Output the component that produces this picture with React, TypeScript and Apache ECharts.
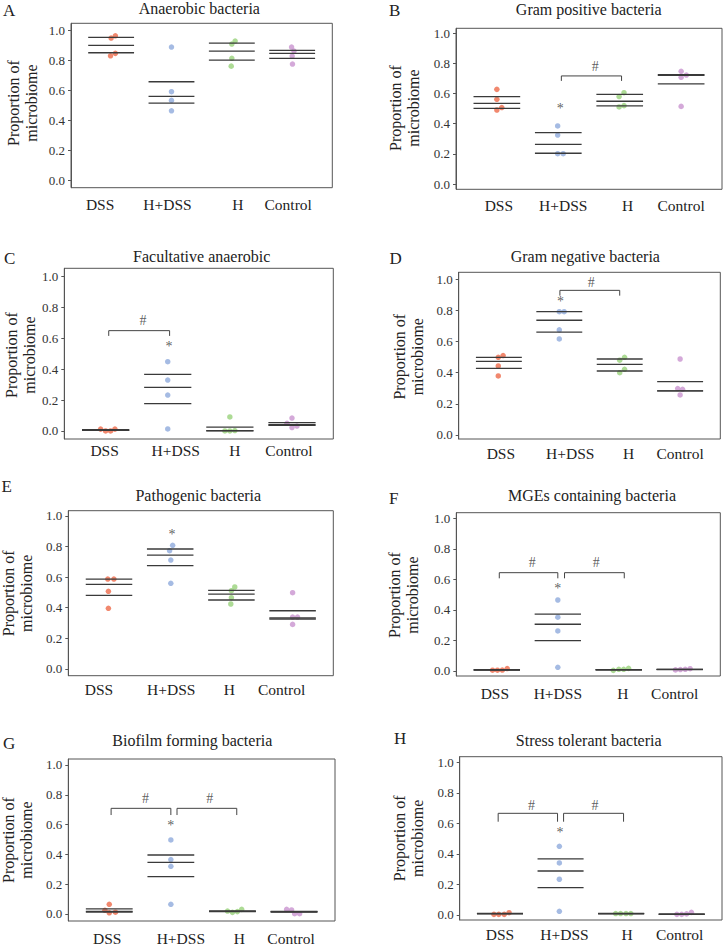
import React, { useEffect, useRef } from "react";
import * as echarts from "echarts";

const groups = ["DSS", "H+DSS", "H", "Control"];
const yTicks = [0, 0.2, 0.4, 0.6, 0.8, 1.0];
const titles = [
  "Anaerobic bacteria",
  "Gram positive bacteria",
  "Facultative anaerobic",
  "Gram negative bacteria",
  "Pathogenic bacteria",
  "MGEs containing bacteria",
  "Biofilm forming bacteria",
  "Stress tolerant bacteria",
];
const letters = ["A", "B", "C", "D", "E", "F", "G", "H"];
const groupColors = ["#EE6A4A", "#8FAADC", "#98D27A", "#C994D0"];

// A: Anaerobic
const anaerobicPoints = [[0.962, 0.947, 0.845, 0.829], [0.887, 0.59, 0.532, 0.463], [0.927, 0.907, 0.812, 0.76], [0.887, 0.86, 0.827, 0.774]];
const anaerobicJitter = [[0.07, 0, 0.07, -0.01], [0, 0, 0, 0], [0.055, 0, 0, -0.01], [-0.01, 0.03, 0, 0.005]];
const anaerobicLines = [[0.951, 0.898, 0.849], [0.656, 0.559, 0.514], [0.913, 0.86, 0.8], [0.865, 0.845, 0.812]];

// B: Gram positive
const gramPosPoints = [[0.628, 0.562, 0.507, 0.491], [0.385, 0.325, 0.201, 0.201], [0.606, 0.58, 0.52, 0.511], [0.748, 0.723, 0.708, 0.515]];
const gramPosJitter = [[0, 0, 0.08, 0], [-0.01, -0.01, -0.01, 0.08], [0.07, -0.01, 0.07, -0.01], [0, 0.085, 0, 0]];
const gramPosLines = [[0.58, 0.535, 0.502], [0.341, 0.263, 0.204], [0.595, 0.549, 0.518], [0.726, 0.721, 0.664]];
const gramPosStars = [[2.03, 0.524]];
const gramPosBrackets = [[2.05, 3.03, 0.717, 0.684]];
const gramPosHashes = [[2.6, 0.779]];

// C: Facultative anaerobic
const facultPoints = [[0.012, 0.0, 0.0, 0.012], [0.449, 0.33, 0.233, 0.013], [0.091, 0.0, 0.0, 0.003], [0.084, 0.05, 0.032, 0.022]];
const facultJitter = [[-0.08, 0, 0.08, 0.15], [0, 0, 0, 0], [0, -0.08, 0, 0.08], [0, -0.08, 0.08, 0]];
const facultLines = [[0.008, 0.006, 0.004], [0.367, 0.283, 0.177], [0.025, 0.002, 0.0], [0.054, 0.041, 0.036]];
const facultStars = [[2.02, 0.568]];
const facultBrackets = [[1.05, 2.03, 0.65, 0.616]];
const facultHashes = [[1.6, 0.719]];

// D: Gram negative
const gramNegPoints = [[0.51, 0.499, 0.443, 0.379], [0.792, 0.792, 0.675, 0.617], [0.499, 0.48, 0.422, 0.4], [0.488, 0.298, 0.293, 0.257]];
const gramNegJitter = [[0.07, -0.01, -0.01, -0.01], [0, 0.08, 0, 0], [0.08, 0, 0.08, 0], [0, -0.04, 0.04, 0]];
const gramNegLines = [[0.499, 0.473, 0.428], [0.792, 0.737, 0.66], [0.488, 0.454, 0.411], [0.343, 0.283, 0.283]];
const gramNegStars = [[2.02, 0.878]];
const gramNegBrackets = [[2.01, 3.0, 0.929, 0.895]];
const gramNegHashes = [[2.53, 0.979]];

// E: Pathogenic
const pathoPoints = [[0.587, 0.587, 0.507, 0.396], [0.807, 0.772, 0.711, 0.559], [0.535, 0.511, 0.465, 0.424], [0.498, 0.339, 0.339, 0.291]];
const pathoJitter = [[-0.02, 0.08, -0.01, -0.01], [0.04, -0.01, 0.01, 0.01], [0.055, 0, 0, -0.01], [0, 0, 0.08, 0]];
const pathoLines = [[0.587, 0.552, 0.48], [0.783, 0.743, 0.674], [0.513, 0.489, 0.45], [0.38, 0.333, 0.326]];
const pathoStars = [[2.03, 0.896]];

// F: MGEs containing
const mgePoints = [[0.005, 0.005, 0.006, 0.016], [0.465, 0.352, 0.262, 0.024], [0.004, 0.011, 0.011, 0.017], [0.007, 0.009, 0.011, 0.015]];
const mgeJitter = [[-0.07, 0.01, 0.09, 0.17], [0, 0, 0, 0], [-0.09, 0, 0.08, 0.16], [-0.07, 0.01, 0.09, 0.17]];
const mgeLines = [[0.008, 0.007, 0.006], [0.373, 0.306, 0.199], [0.009, 0.008, 0.007], [0.011, 0.01, 0.009]];
const mgeStars = [[2.0, 0.559]];
const mgeBrackets = [[1.04, 2.0, 0.644, 0.607], [2.11, 3.09, 0.644, 0.607]];
const mgeHashes = [[1.58, 0.71], [2.63, 0.71]];

// G: Biofilm forming
const biofilmPoints = [[0.065, 0.025, 0.008, 0.012], [0.497, 0.365, 0.32, 0.065], [0.02, 0.011, 0.016, 0.031], [0.031, 0.027, 0.002, 0.002]];
const biofilmJitter = [[0, -0.07, 0, 0.1], [0, 0, 0, 0], [-0.08, 0, 0.08, 0.15], [-0.12, -0.04, 0.01, 0.09]];
const biofilmLines = [[0.034, 0.017, 0.012], [0.396, 0.347, 0.251], [0.02, 0.018, 0.016], [0.018, 0.015, 0.013]];
const biofilmStars = [[2.0, 0.615]];
const biofilmBrackets = [[1.03, 2.0, 0.709, 0.664], [2.1, 3.07, 0.709, 0.664]];
const biofilmHashes = [[1.59, 0.776], [2.63, 0.776]];

// H: Stress tolerant
const stressPoints = [[0.004, 0.004, 0.004, 0.015], [0.45, 0.341, 0.234, 0.024], [0.009, 0.009, 0.009, 0.009], [0.004, 0.004, 0.007, 0.017]];
const stressJitter = [[-0.1, -0.02, 0.07, 0.15], [-0.02, -0.02, -0.02, -0.02], [-0.09, -0.01, 0.08, 0.16], [-0.08, 0, 0.08, 0.16]];
const stressLines = [[0.01, 0.009, 0.008], [0.367, 0.288, 0.179], [0.01, 0.009, 0.008], [0.005, 0.005, 0.004]];
const stressStars = [[1.99, 0.563]];
const stressBrackets = [[0.97, 1.95, 0.666, 0.611], [2.05, 3.04, 0.666, 0.611]];
const stressHashes = [[1.52, 0.72], [2.57, 0.72]];

const panels = [
  { points: anaerobicPoints, jitter: anaerobicJitter, lines: anaerobicLines, stars: [], brackets: [], hashes: [] },
  { points: gramPosPoints, jitter: gramPosJitter, lines: gramPosLines, stars: gramPosStars, brackets: gramPosBrackets, hashes: gramPosHashes },
  { points: facultPoints, jitter: facultJitter, lines: facultLines, stars: facultStars, brackets: facultBrackets, hashes: facultHashes },
  { points: gramNegPoints, jitter: gramNegJitter, lines: gramNegLines, stars: gramNegStars, brackets: gramNegBrackets, hashes: gramNegHashes },
  { points: pathoPoints, jitter: pathoJitter, lines: pathoLines, stars: pathoStars, brackets: [], hashes: [] },
  { points: mgePoints, jitter: mgeJitter, lines: mgeLines, stars: mgeStars, brackets: mgeBrackets, hashes: mgeHashes },
  { points: biofilmPoints, jitter: biofilmJitter, lines: biofilmLines, stars: biofilmStars, brackets: biofilmBrackets, hashes: biofilmHashes },
  { points: stressPoints, jitter: stressJitter, lines: stressLines, stars: stressStars, brackets: stressBrackets, hashes: stressHashes },
];

// layout: box [left, top, right, bottom], y extent, title/letter/yname anchors, x-label margin and offsets
const layouts = [
  { box: [71, 23.3, 332.3, 187.7], ymin: -0.049, ymax: 1.045, title: [199.3, 8], letter: [3, 10], yname: [22, 103], xm: 9, xoff: [-11, -4, 6, -4] },
  { box: [456, 28.3, 722, 189.3], ymin: -0.035, ymax: 1.033, title: [588.7, 9.5], letter: [389, 10], yname: [404.5, 108], xm: 8, xoff: [2, 5, 8, 0] },
  { box: [64.3, 268.3, 333.3, 439], ymin: -0.052, ymax: 1.054, title: [201.7, 256.7], letter: [4, 258.5], yname: [20.5, 355], xm: 3, xoff: [-1, 8, 5, -3] },
  { box: [458.7, 272.3, 720.3, 439], ymin: -0.026, ymax: 1.045, title: [585.3, 256.7], letter: [389.5, 258.3], yname: [408, 356.7], xm: 6, xoff: [2, 11, 9, 0] },
  { box: [68.3, 510.7, 333.3, 675.7], ymin: -0.044, ymax: 1.033, title: [198.3, 495.7], letter: [1.5, 486], yname: [17.5, 593.3], xm: 6, xoff: [-10, 1, -2, -11] },
  { box: [456.3, 512.7, 720.3, 676], ymin: -0.033, ymax: 1.037, title: [592, 495.7], letter: [389, 498.3], yname: [403.7, 595], xm: 9, xoff: [-2, 0, 4, -5] },
  { box: [68.3, 759, 335, 921], ymin: -0.047, ymax: 1.04, title: [192.3, 740.7], letter: [3, 743.3], yname: [17.5, 840], xm: 9, xoff: [-2, 10, 7, -3] },
  { box: [459.7, 756.7, 722, 920], ymin: -0.033, ymax: 1.037, title: [588.7, 740], letter: [394, 738.8], yname: [408, 838.3], xm: 6, xoff: [0, 4, 6, -2] },
];

const FONT = '"Liberation Serif", "DejaVu Serif", serif';
const TEXT = "#222";
const AXIS = "#555";

function buildOption() {
  const grid: any[] = [];
  const xAxis: any[] = [];
  const yAxis: any[] = [];
  const series: any[] = [];
  const graphic: any[] = [];

  panels.forEach((p, i) => {
    const L = layouts[i];
    const [l, t, r, b] = L.box;
    grid.push({ left: l, top: t, width: r - l, height: b - t, show: true, borderColor: AXIS, borderWidth: 1, backgroundColor: "transparent", containLabel: false });
    const rich: any = {};
    L.xoff.forEach((o, k) => {
      rich["g" + k] = {
        fontFamily: FONT,
        fontSize: 15.5,
        color: TEXT,
        padding: o >= 0 ? [0, 0, 0, 2 * o] : [0, -2 * o, 0, 0],
      };
    });
    xAxis.push({
      gridIndex: i,
      type: "value",
      min: 0.335,
      max: 4.665,
      axisLine: { show: false },
      axisTick: { show: false },
      splitLine: { show: false },
      axisLabel: {
        customValues: [1, 2, 3, 4],
        margin: L.xm,
        fontFamily: FONT,
        fontSize: 15.5,
        color: TEXT,
        formatter: (v: number) => {
          const k = Math.round(v) - 1;
          return "{g" + k + "|" + groups[k] + "}";
        },
        rich,
      },
    });
    yAxis.push({
      gridIndex: i,
      type: "value",
      min: L.ymin,
      max: L.ymax,
      axisLine: { show: true, lineStyle: { color: AXIS, width: 1 } },
      axisTick: { show: true, length: 3, customValues: yTicks, lineStyle: { color: AXIS } },
      splitLine: { show: false },
      axisLabel: {
        customValues: yTicks,
        margin: 6,
        fontFamily: FONT,
        fontSize: 13,
        color: "#333",
        formatter: (v: number) => v.toFixed(1),
      },
    });

    // points
    const pts: any[] = [];
    p.points.forEach((vals, gi) => {
      vals.forEach((v, k) => {
        pts.push({ value: [gi + 1 + p.jitter[gi][k], v], itemStyle: { color: groupColors[gi] } });
      });
    });
    series.push({
      type: "scatter",
      xAxisIndex: i,
      yAxisIndex: i,
      symbol: "circle",
      symbolSize: 5.5,
      data: pts,
      z: 2,
      clip: false,
      silent: true,
    });

    // quartile / median lines
    const ln: any[] = [];
    p.lines.forEach((vals, gi) => vals.forEach((v) => ln.push([gi + 1, v])));
    series.push({
      type: "custom",
      xAxisIndex: i,
      yAxisIndex: i,
      data: ln,
      z: 3,
      silent: true,
      itemStyle: { color: "#3a3a3a" },
      renderItem: (params: any, api: any) => {
        const x = api.value(0);
        const y = api.value(1);
        const a = api.coord([x - 0.38, y]);
        const c = api.coord([x + 0.38, y]);
        return { type: "line", shape: { x1: a[0], y1: a[1], x2: c[0], y2: c[1] }, style: { stroke: "#3a3a3a", lineWidth: 1.3 } };
      },
    });

    if (p.brackets.length) {
      series.push({
        type: "custom",
        xAxisIndex: i,
        yAxisIndex: i,
        data: p.brackets,
        z: 3,
        silent: true,
        itemStyle: { color: "#444" },
        renderItem: (params: any, api: any) => {
          const x1 = api.value(0), x2 = api.value(1), top = api.value(2), bot = api.value(3);
          const pa = api.coord([x1, bot]);
          const pb = api.coord([x1, top]);
          const pc = api.coord([x2, top]);
          const pd = api.coord([x2, bot]);
          return { type: "polyline", shape: { points: [pa, pb, pc, pd] }, style: { stroke: "#444", lineWidth: 1, fill: "none" } };
        },
      });
    }
    const textSeries = (data: number[][], ch: string, dy: number, size: number) => ({
      type: "scatter",
      xAxisIndex: i,
      yAxisIndex: i,
      data,
      z: 4,
      silent: true,
      clip: false,
      symbol: "rect",
      symbolSize: 1,
      itemStyle: { color: "rgba(0,0,0,0)" },
      label: {
        show: true,
        position: "inside",
        formatter: ch,
        color: "#333",
        fontFamily: FONT,
        fontSize: size,
        offset: [0, dy],
      },
    });
    if (p.stars.length) series.push(textSeries(p.stars, "*", 3, 14));
    if (p.hashes.length) series.push(textSeries(p.hashes, "#", 0, 14));

    graphic.push({
      type: "text",
      x: L.title[0],
      y: L.title[1],
      silent: true,
      style: { text: titles[i], fill: TEXT, fontFamily: FONT, fontSize: 16, align: "center", verticalAlign: "middle" },
    });
    graphic.push({
      type: "text",
      x: L.letter[0],
      y: L.letter[1],
      silent: true,
      style: { text: letters[i], fill: TEXT, fontFamily: FONT, fontSize: 17, align: "left", verticalAlign: "middle" },
    });
    graphic.push({
      type: "text",
      x: L.yname[0],
      y: L.yname[1],
      rotation: Math.PI / 2,
      silent: true,
      style: {
        text: "Proportion of\nmicrobiome",
        fill: TEXT,
        fontFamily: FONT,
        fontSize: 16,
        lineHeight: 18,
        align: "center",
        verticalAlign: "middle",
      },
    });
  });

  return {
    animation: false,
    backgroundColor: "#ffffff",
    grid,
    xAxis,
    yAxis,
    series,
    graphic,
  };
}

export default function App() {
  const ref = useRef<HTMLDivElement>(null);
  useEffect(() => {
    if (!ref.current) return;
    const chart = echarts.init(ref.current, undefined, { renderer: "svg" });
    chart.setOption(buildOption() as any);
    return () => chart.dispose();
  }, []);
  return <div ref={ref} style={{ position: "absolute", left: 0, top: 0, width: 723, height: 946 }} />;
}
